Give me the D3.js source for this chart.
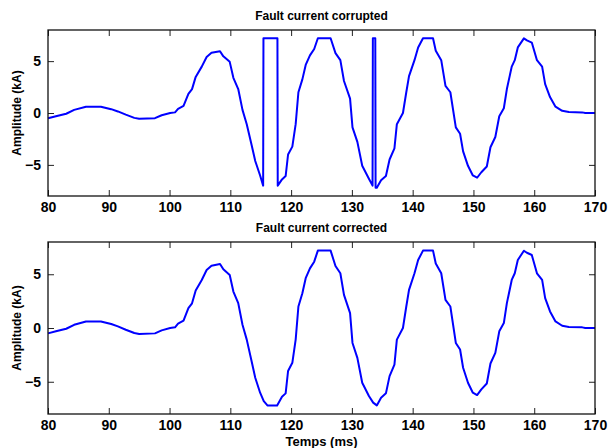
<!DOCTYPE html>
<html>
<head>
<meta charset="utf-8">
<script src="https://cdn.jsdelivr.net/npm/d3@7"></script>
<style>
  body { margin: 0; background: #fff; }
  svg { display: block; }
  .tick text { font-family: "Liberation Sans", Arial, sans-serif; font-weight: bold; font-size: 14px; fill: #000; }
  .tick line { stroke: #222; stroke-width: 1; }
  .domain { display: none; }
</style>
</head>
<body>
<div id="chart"></div>
<script>
// sample times (ms) and fault current (kA)
var time = [80, 81.3, 83, 84.3, 86.25, 88.7, 90.4, 91.5, 92.8, 94.2, 95, 97.6, 98.7, 100.1, 100.9,
  101.4, 102.3, 103.1, 103.7, 104.3, 105.3, 106.1, 106.9, 108.3, 108.85, 109.9, 110.5, 111.3, 112,
  112.7, 113.5, 114.1, 114.9, 115.5, 116.1, 117.7, 118.5, 119.1, 119.5, 120.2, 120.75, 121.2, 121.85,
  122.4, 123.1, 123.8, 124.4, 126.5, 127.3, 128.1, 128.7, 129.7, 130.1, 130.9, 131.7, 132.8, 133.5,
  134.1, 134.8, 135.6, 136.2, 137, 137.4, 138.4, 138.95, 139.4, 140.3, 140.9, 141.7, 143.35, 143.8,
  144.7, 145.4, 146.2, 147.1, 147.8, 148.3, 149.1, 149.9, 150.6, 151.3, 152.2, 152.8, 153.6, 154.25,
  155, 155.5, 156.3, 156.8, 157.3, 158.3, 158.8, 159.6, 160.45, 161.3, 161.8, 162.6, 163.5, 164.6,
  165.7, 167.9, 168.4, 170];
var current = [-0.5, -0.31, -0.07, 0.3, 0.61, 0.61, 0.37, 0.15, -0.16, -0.47, -0.56, -0.5, -0.22, 0, 0.06,
  0.4, 0.68, 1.85, 2.3, 3.48, 4.47, 5.4, 5.8, 5.95, 5.46, 4.93, 3.39, 2.31, 0.3,
  -1.08, -3.09, -4.63, -6.02, -6.8, -7.2, -7.2, -6.4, -6.08, -4.0, -3.24, -1.08, 2.0, 3.24,
  4.63, 5.55, 6.17, 7.2, 7.2, 5.77, 5.09, 3.08, 1.39, -1.39, -2.78, -5.09, -6.33, -6.94,
  -7.2, -6.48, -6.08, -4.48, -3.4, -1.08, 0, 2.0, 3.55, 5.09, 6.32, 7.2, 7.2, 6.0,
  5.09, 2.62, 2.0, -1.39, -2.0, -3.7, -5.09, -6.02, -6.24, -5.71, -5.16, -3.3, -2.31, -0.31,
  0.46, 2.31, 4.47, 5.09, 6.32, 7.19, 7.0, 6.79, 5.09, 4.47, 2.78, 1.54, 0.61, 0.21,
  0.09, 0.06, 0, 0];

// corrupted segments (wrap-around of the clipped samples)
var glitchTimes = [[115.4, 115.45, 117.75, 117.8], [133.4, 133.45, 133.85, 133.9]];
var glitchValues = [[-7.0, 7.2, 7.2, -7.0], [-7.0, 7.2, 7.2, -7.2]];

var xTicks = [80, 90, 100, 110, 120, 130, 140, 150, 160, 170];
var yTicks = [-5, 0, 5];

var corrected = time.map(function(t, i) { return {t: t, v: current[i]}; });

var corrupted = corrected.filter(function(d) {
  return !glitchTimes.some(function(g) { return d.t >= g[0] && d.t <= g[g.length - 1]; });
});
glitchTimes.forEach(function(g, k) {
  g.forEach(function(t, i) { corrupted.push({t: t, v: glitchValues[k][i]}); });
});
corrupted.sort(function(a, b) { return a.t - b.t; });

var W = 609, H = 448;
var svg = d3.select("#chart").append("svg")
  .attr("width", W)
  .attr("height", H);

svg.append("rect").attr("width", W).attr("height", H).attr("fill", "#fff");

var panels = [
  {title: "Fault current corrupted", data: corrupted, top: 30, bottom: 196, titleY: 20},
  {title: "Fault current corrected", data: corrected, top: 242, bottom: 414, titleY: 232}
];

var left = 48, right = 595;

panels.forEach(function(p) {
  var x = d3.scaleLinear().domain([80, 170]).range([left, right]);
  var y = d3.scaleLinear().domain([-8, 8]).range([p.bottom, p.top]);
  var g = svg.append("g");

  g.append("g")
    .attr("transform", "translate(0," + p.bottom + ")")
    .call(d3.axisBottom(x).tickValues(xTicks).tickSize(-6).tickPadding(6).tickFormat(d3.format("d")));

  g.append("g")
    .attr("transform", "translate(0," + p.top + ")")
    .call(d3.axisTop(x).tickValues(xTicks).tickSize(-6).tickFormat(""));

  g.append("g")
    .attr("transform", "translate(" + left + ",0)")
    .call(d3.axisLeft(y).tickValues(yTicks).tickSize(-6).tickPadding(7).tickFormat(d3.format("d")));

  g.append("g")
    .attr("transform", "translate(" + right + ",0)")
    .call(d3.axisRight(y).tickValues(yTicks).tickSize(-6).tickFormat(""));

  var line = d3.line()
    .x(function(d) { return x(d.t); })
    .y(function(d) { return y(d.v); });

  g.append("path")
    .datum(p.data)
    .attr("fill", "none")
    .attr("stroke", "#0000ff")
    .attr("stroke-width", 2)
    .attr("stroke-linejoin", "round")
    .attr("d", line);

  // frame
  g.append("rect")
    .attr("x", left)
    .attr("y", p.top)
    .attr("width", right - left)
    .attr("height", p.bottom - p.top)
    .attr("fill", "none")
    .attr("stroke", "#111")
    .attr("stroke-width", 1.3);

  g.append("text")
    .attr("x", (left + right) / 2)
    .attr("y", p.titleY)
    .attr("text-anchor", "middle")
    .style("font-family", "Liberation Sans, Arial, sans-serif")
    .style("font-weight", "bold")
    .style("font-size", "12px")
    .text(p.title);

  g.append("text")
    .attr("transform", "translate(21," + ((p.top + p.bottom) / 2) + ") rotate(-90)")
    .attr("text-anchor", "middle")
    .style("font-family", "Liberation Sans, Arial, sans-serif")
    .style("font-weight", "bold")
    .style("font-size", "12px")
    .text("Amplitude (kA)");
});

svg.append("text")
  .attr("x", (left + right) / 2)
  .attr("y", 446)
  .attr("text-anchor", "middle")
  .style("font-family", "Liberation Sans, Arial, sans-serif")
  .style("font-weight", "bold")
  .style("font-size", "13px")
  .text("Temps (ms)");
</script>
</body>
</html>
